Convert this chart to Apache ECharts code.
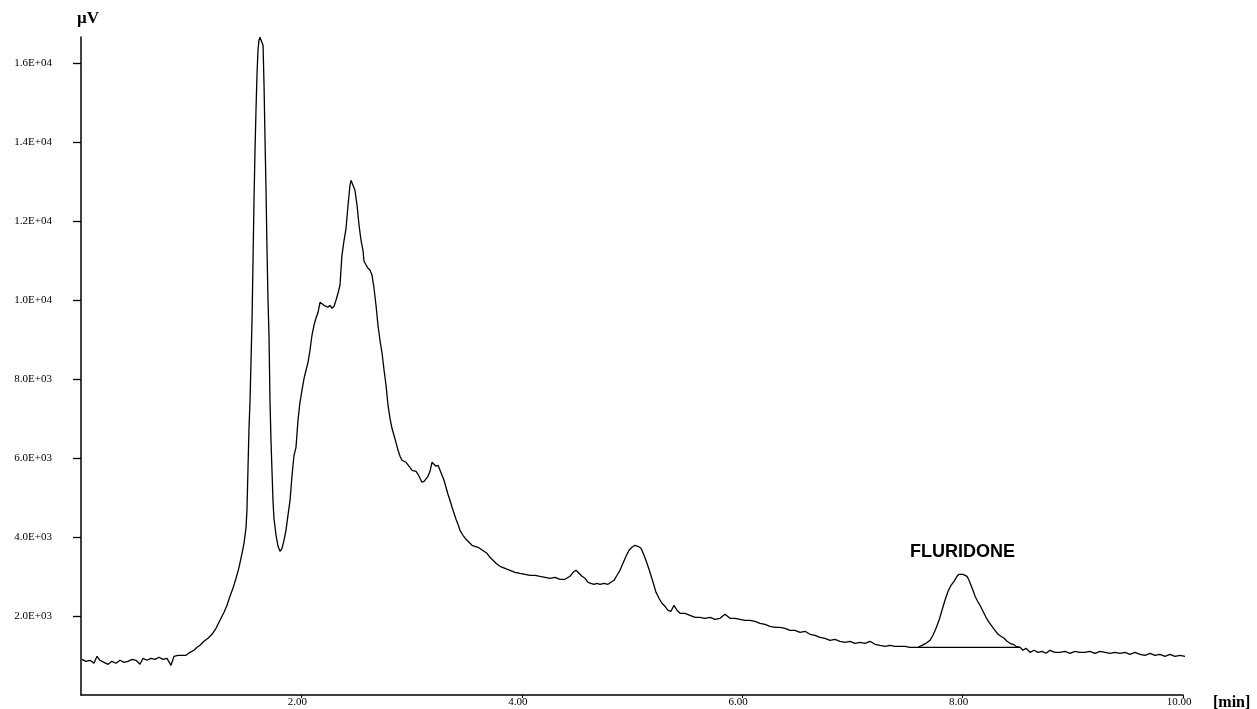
<!DOCTYPE html>
<html>
<head>
<meta charset="utf-8">
<script src="https://cdn.jsdelivr.net/npm/echarts@6/dist/echarts.min.js"></script>
<style>html,body{margin:0;padding:0;background:#fff}#c{width:1257px;height:709px}</style>
</head>
<body>
<div id="c"></div>
<script>
// Retention time (min)
const times = [
0.009,0.045,0.082,0.118,0.145,0.172,0.209,0.245,0.281,0.318,0.354,0.390,0.426,0.463,0.499,0.535,0.563,0.599,0.635,0.672,
0.708,0.744,0.780,0.817,0.844,0.880,0.917,0.953,0.989,1.025,1.053,1.080,1.116,1.152,1.189,1.225,1.261,1.298,1.325,1.352,
1.379,1.407,1.434,1.461,1.479,1.497,1.506,1.515,1.524,1.534,1.543,1.552,1.561,1.570,1.579,1.588,1.597,1.606,1.615,1.624,
1.633,1.642,1.652,1.661,1.670,1.679,1.688,1.697,1.706,1.715,1.724,1.733,1.742,1.751,1.770,1.788,1.806,1.824,1.842,1.860,
1.878,1.897,1.915,1.933,1.951,1.969,1.987,2.005,2.024,2.042,2.060,2.078,2.096,2.114,2.132,2.151,2.169,2.187,2.205,2.223,
2.241,2.260,2.278,2.296,2.314,2.332,2.350,2.368,2.387,2.405,2.423,2.441,2.450,2.468,2.486,2.505,2.523,2.541,2.559,2.568,
2.586,2.604,2.623,2.641,2.659,2.677,2.695,2.713,2.731,2.750,2.768,2.786,2.804,2.822,2.840,2.858,2.877,2.895,2.913,2.931,
2.949,2.967,2.985,3.004,3.022,3.040,3.058,3.076,3.094,3.113,3.131,3.149,3.167,3.185,3.203,3.221,3.240,3.258,3.276,3.294,
3.312,3.330,3.348,3.367,3.385,3.403,3.421,3.439,3.466,3.494,3.521,3.548,3.575,3.603,3.630,3.657,3.684,3.711,3.739,3.766,
3.802,3.848,3.893,3.938,3.984,4.029,4.074,4.120,4.165,4.211,4.256,4.301,4.347,4.392,4.437,4.465,4.492,4.519,4.546,4.574,
4.601,4.628,4.655,4.682,4.710,4.746,4.782,4.809,4.837,4.864,4.891,4.918,4.946,4.973,5.000,5.027,5.054,5.082,5.109,5.136,
5.163,5.191,5.218,5.245,5.272,5.299,5.327,5.354,5.381,5.408,5.436,5.481,5.526,5.572,5.617,5.662,5.708,5.753,5.799,5.844,
5.889,5.935,5.980,6.025,6.071,6.116,6.162,6.207,6.252,6.298,6.343,6.388,6.434,6.479,6.525,6.570,6.615,6.661,6.706,6.751,
6.797,6.842,6.887,6.933,6.978,7.024,7.069,7.114,7.160,7.205,7.250,7.296,7.341,7.387,7.432,7.477,7.523,7.568,7.595,7.632,
7.668,7.704,7.731,7.759,7.786,7.813,7.840,7.868,7.895,7.922,7.949,7.967,7.985,8.004,8.022,8.040,8.058,8.076,8.094,8.113,
8.131,8.158,8.185,8.212,8.240,8.267,8.294,8.321,8.348,8.376,8.403,8.430,8.457,8.485,8.521,8.548,8.575,8.612,8.648,8.684,
8.721,8.757,8.793,8.838,8.884,8.929,8.975,9.020,9.065,9.111,9.156,9.201,9.247,9.292,9.338,9.383,9.428,9.474,9.519,9.564,
9.610,9.655,9.701,9.746,9.791,9.837,9.882,9.927,9.973,10.018,10.064,10.118
];
// Detector signal (µV)
const signal = [
904,853,879,803,980,879,828,777,853,803,879,828,853,904,879,777,929,879,929,904,
955,904,929,752,980,1005,1005,1005,1081,1132,1208,1258,1360,1436,1537,1689,1891,2094,2271,2499,
2702,2955,3233,3588,3841,4221,4677,5689,6702,7462,8475,9487,11007,12526,13792,14805,15691,16324,16577,16653,
16678,16653,16450,15438,14045,12779,11260,9994,9108,7462,6449,5689,4930,4474,4044,3765,3638,3714,3917,4170,
4550,4930,5563,6069,6272,6956,7411,7715,8019,8222,8424,8728,9108,9361,9538,9690,9943,9918,9867,9892,
9817,9867,9791,9842,9994,10171,10374,11133,11513,11817,12399,12906,13032,13032,12779,12399,11893,11513,11260,10981,
11007,10804,10753,10627,10298,9867,9361,8981,8677,8222,7842,7335,7006,6753,6576,6398,6196,6044,5943,5917,
5892,5867,5765,5689,5639,5664,5588,5487,5386,5411,5436,5537,5664,5892,5917,5791,5816,5689,5563,5436,
5259,5082,4930,4753,4601,4449,4322,4170,4044,3942,3866,3790,3765,3740,3689,3638,3588,3487,3411,3335,
3259,3208,3157,3107,3081,3056,3031,3031,3005,2980,2955,2980,2930,2930,3005,3107,3157,3081,3005,2955,
2854,2828,2803,2828,2803,2828,2803,2854,2904,3031,3157,3335,3512,3664,3740,3790,3765,3714,3537,3335,
3107,2854,2600,2448,2322,2246,2145,2119,2271,2145,2069,2069,2018,1967,1967,1942,1967,1917,1942,2043,
1942,1942,1917,1891,1891,1866,1815,1790,1739,1714,1714,1689,1638,1638,1588,1613,1537,1512,1461,1436,
1385,1410,1360,1334,1360,1309,1334,1309,1360,1284,1258,1233,1258,1233,1233,1233,1208,1208,1208,1258,
1309,1385,1512,1689,1891,2145,2398,2626,2778,2879,3005,3056,3081,3056,3056,3005,2904,2778,2651,2499,
2398,2271,2119,1967,1841,1739,1638,1537,1486,1436,1360,1309,1284,1233,1208,1132,1182,1081,1132,1081,
1106,1056,1132,1081,1081,1106,1056,1106,1081,1081,1106,1056,1106,1081,1056,1081,1056,1081,1031,1081,
1031,1005,1056,1005,1031,980,1031,980,1005,980,1031,1031
];
// Peak integration baseline (FLURIDONE)
const baselineTimes = [7.595, 8.521];
const baselineValues = [1208, 1208];
const peakLabel = 'FLURIDONE';
const peakLabelTime = 8.0;
const peakLabelValue = 3613;
const xTicks = [2, 4, 6, 8, 10];
const yTicks = [2000, 4000, 6000, 8000, 10000, 12000, 14000, 16000];

function fmtY(v) {
  const e = Math.floor(Math.log10(v));
  const m = v / Math.pow(10, e);
  return m.toFixed(1) + 'E+' + String(e).padStart(2, '0');
}

const chart = echarts.init(document.getElementById('c'), null, {renderer: 'canvas'});
chart.setOption({
  animation: false,
  backgroundColor: '#ffffff',
  grid: {left: 81, right: 74, top: 37, bottom: 14, outerBoundsMode: 'none', containLabel: false},
  xAxis: {
    type: 'value', min: 0, max: 10,
    name: '[min]', nameLocation: 'end', nameGap: 30,
    nameTextStyle: {fontFamily: 'Liberation Serif', fontWeight: 'bold', fontSize: 16, color: '#000', verticalAlign: 'top', padding: 0},
    axisLine: {show: true, lineStyle: {color: '#000', width: 1.5}},
    axisTick: {show: true, inside: false, length: 3, customValues: xTicks, lineStyle: {color: '#000', width: 1}},
    axisLabel: {customValues: xTicks, formatter: v => v.toFixed(2), fontFamily: 'Liberation Serif', fontSize: 11, color: '#000', margin: 2, padding: [0, 8, 0, 0]},
    splitLine: {show: false}
  },
  yAxis: {
    type: 'value', min: 0, max: 16660,
    name: 'µV', nameLocation: 'end', nameGap: 10,
    nameTextStyle: {fontFamily: 'Liberation Serif', fontWeight: 'bold', fontSize: 17, color: '#000', padding: [0, 0, 0, 14]},
    axisLine: {show: true, lineStyle: {color: '#000', width: 1.5}},
    axisTick: {show: true, inside: false, length: 8, customValues: yTicks, lineStyle: {color: '#000', width: 1.3}},
    axisLabel: {customValues: yTicks, formatter: fmtY, fontFamily: 'Liberation Serif', fontSize: 11, color: '#000', margin: 29},
    splitLine: {show: false}
  },
  series: [
    {
      type: 'line', name: 'signal', clip: false, showSymbol: false, symbol: 'none',
      data: times.map((t, i) => [t, signal[i]]),
      lineStyle: {color: '#000', width: 1.3}
    },
    {
      type: 'line', name: 'baseline', clip: false, showSymbol: false, symbol: 'none',
      data: baselineTimes.map((t, i) => [t, baselineValues[i]]),
      lineStyle: {color: '#000', width: 1.3},
      markPoint: {
        symbol: 'circle', symbolSize: 0,
        data: [{coord: [peakLabelTime, peakLabelValue], value: peakLabel}],
        label: {show: true, position: 'inside', formatter: peakLabel, fontFamily: 'Liberation Sans', fontWeight: 'bold', fontSize: 18, color: '#000'}
      }
    }
  ]
});
</script>
</body>
</html>
